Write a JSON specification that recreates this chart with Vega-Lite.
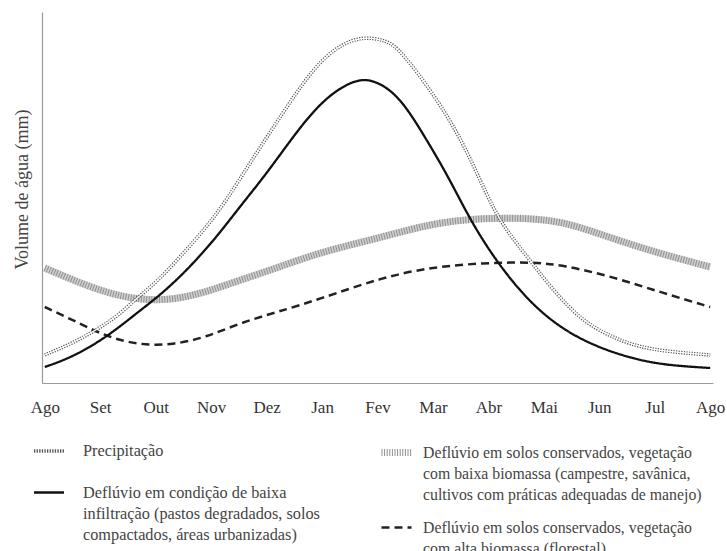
{
  "$schema": "https://vega.github.io/schema/vega-lite/v6.json",
  "autosize": {"type": "none"},
  "padding": {"left": 42, "top": 12, "right": 14, "bottom": 168},
  "width": 671,
  "height": 371,
  "config": {
    "view": {"stroke": null},
    "font": "Liberation Serif",
    "axis": {"grid": false},
    "style": {"guide-label": {"lineHeight": 21}}
  },
  "data": {
    "values": [
      {"serie": "P", "mes": 0, "v": 28},
      {"serie": "P", "mes": 0.505, "v": 40},
      {"serie": "P", "mes": 0.866, "v": 51},
      {"serie": "P", "mes": 1.3, "v": 66},
      {"serie": "P", "mes": 1.66, "v": 85},
      {"serie": "P", "mes": 2.02, "v": 101},
      {"serie": "P", "mes": 2.44, "v": 126},
      {"serie": "P", "mes": 2.92, "v": 156},
      {"serie": "P", "mes": 3.28, "v": 183},
      {"serie": "P", "mes": 3.7, "v": 220},
      {"serie": "P", "mes": 4.29, "v": 270},
      {"serie": "P", "mes": 4.78, "v": 310},
      {"serie": "P", "mes": 5.2, "v": 334},
      {"serie": "P", "mes": 5.68, "v": 347},
      {"serie": "P", "mes": 6.17, "v": 343},
      {"serie": "P", "mes": 6.41, "v": 333},
      {"serie": "P", "mes": 7.0, "v": 290},
      {"serie": "P", "mes": 7.49, "v": 246},
      {"serie": "P", "mes": 7.85, "v": 203},
      {"serie": "P", "mes": 8.21, "v": 160},
      {"serie": "P", "mes": 8.75, "v": 123},
      {"serie": "P", "mes": 9.06, "v": 100},
      {"serie": "P", "mes": 9.65, "v": 63},
      {"serie": "P", "mes": 10.25, "v": 45},
      {"serie": "P", "mes": 10.86, "v": 33},
      {"serie": "P", "mes": 12, "v": 28},

      {"serie": "BI", "mes": 0, "v": 16},
      {"serie": "BI", "mes": 0.505, "v": 26},
      {"serie": "BI", "mes": 1.12, "v": 46},
      {"serie": "BI", "mes": 1.66, "v": 70},
      {"serie": "BI", "mes": 2.13, "v": 90},
      {"serie": "BI", "mes": 2.62, "v": 116},
      {"serie": "BI", "mes": 3.1, "v": 146},
      {"serie": "BI", "mes": 3.57, "v": 180},
      {"serie": "BI", "mes": 4.01, "v": 210},
      {"serie": "BI", "mes": 4.6, "v": 256},
      {"serie": "BI", "mes": 5.09, "v": 287},
      {"serie": "BI", "mes": 5.63, "v": 305},
      {"serie": "BI", "mes": 5.99, "v": 302},
      {"serie": "BI", "mes": 6.41, "v": 286},
      {"serie": "BI", "mes": 6.89, "v": 243},
      {"serie": "BI", "mes": 7.31, "v": 203},
      {"serie": "BI", "mes": 7.67, "v": 163},
      {"serie": "BI", "mes": 8.16, "v": 120},
      {"serie": "BI", "mes": 8.75, "v": 80},
      {"serie": "BI", "mes": 9.35, "v": 53},
      {"serie": "BI", "mes": 9.96, "v": 36},
      {"serie": "BI", "mes": 10.56, "v": 25},
      {"serie": "BI", "mes": 11.15, "v": 18},
      {"serie": "BI", "mes": 12, "v": 15},

      {"serie": "BB", "mes": 0, "v": 115},
      {"serie": "BB", "mes": 0.505, "v": 103},
      {"serie": "BB", "mes": 1.12, "v": 90},
      {"serie": "BB", "mes": 1.71, "v": 83},
      {"serie": "BB", "mes": 2.31, "v": 83},
      {"serie": "BB", "mes": 2.92, "v": 91},
      {"serie": "BB", "mes": 3.52, "v": 103},
      {"serie": "BB", "mes": 4.19, "v": 115},
      {"serie": "BB", "mes": 4.91, "v": 130},
      {"serie": "BB", "mes": 6.1, "v": 146},
      {"serie": "BB", "mes": 7.0, "v": 160},
      {"serie": "BB", "mes": 7.9, "v": 165},
      {"serie": "BB", "mes": 8.75, "v": 165},
      {"serie": "BB", "mes": 9.35, "v": 161},
      {"serie": "BB", "mes": 9.96, "v": 150},
      {"serie": "BB", "mes": 10.86, "v": 133},
      {"serie": "BB", "mes": 12, "v": 116},

      {"serie": "AB", "mes": 0, "v": 76},
      {"serie": "AB", "mes": 0.505, "v": 63},
      {"serie": "AB", "mes": 1.12, "v": 46},
      {"serie": "AB", "mes": 1.71, "v": 38},
      {"serie": "AB", "mes": 2.31, "v": 38},
      {"serie": "AB", "mes": 2.92, "v": 46},
      {"serie": "AB", "mes": 3.52, "v": 60},
      {"serie": "AB", "mes": 4.19, "v": 71},
      {"serie": "AB", "mes": 4.91, "v": 83},
      {"serie": "AB", "mes": 6.1, "v": 106},
      {"serie": "AB", "mes": 7.0, "v": 116},
      {"serie": "AB", "mes": 7.9, "v": 120},
      {"serie": "AB", "mes": 8.75, "v": 121},
      {"serie": "AB", "mes": 9.35, "v": 118},
      {"serie": "AB", "mes": 10.25, "v": 106},
      {"serie": "AB", "mes": 11.15, "v": 90},
      {"serie": "AB", "mes": 12, "v": 76}
    ]
  },
  "encoding": {
    "x": {
      "field": "mes", "type": "quantitative",
      "scale": {"domain": [-0.05, 12.05], "nice": false, "zero": false},
      "axis": {
        "title": null, "values": [0,1,2,3,4,5,6,7,8,9,10,11,12],
        "labelExpr": "['Ago','Set','Out','Nov','Dez','Jan','Fev','Mar','Abr','Mai','Jun','Jul','Ago'][datum.value]",
        "ticks": false, "domainColor": "#9a9a9a", "domainWidth": 1.2,
        "labelFont": "Liberation Serif", "labelFontSize": 17, "labelColor": "#333", "labelPadding": 16, "labelFlush": false
      }
    },
    "y": {
      "field": "v", "type": "quantitative",
      "scale": {"domain": [0, 371], "nice": false},
      "axis": {
        "title": "Volume de água (mm)", "labels": false, "ticks": false,
        "domainColor": "#9a9a9a", "domainWidth": 1.2,
        "titleFont": "Liberation Serif", "titleFontSize": 18, "titleFontWeight": "normal", "titleColor": "#444",
        "titlePadding": 11, "titleY": 177
      }
    }
  },
  "layer": [
    {
      "transform": [{"filter": "datum.serie == 'BB'"}],
      "mark": {"type": "line", "interpolate": "basis", "stroke": "#d0d0d0", "strokeWidth": 7}
    },
    {
      "transform": [{"filter": "datum.serie == 'BB' || datum.serie == 'AB'"}],
      "mark": {"type": "line", "interpolate": "basis"},
      "encoding": {
        "color": {
          "field": "serie", "type": "nominal",
          "scale": {"domain": ["BB", "AB"], "range": ["#8f8f8f", "#222222"]},
          "legend": {
            "orient": "none", "legendX": 336, "legendY": 422, "title": null,
            "direction": "vertical", "symbolSize": 900, "labelFont": "Liberation Serif", "labelFontSize": 15.8, "labelColor": "#444",
            "labelLimit": 400, "rowPadding": 8, "labelOffset": 8,
            "labelExpr": "datum.value == 'BB' ? ['Deflúvio em solos conservados, vegetação', 'com baixa biomassa (campestre, savânica,', 'cultivos com práticas adequadas de manejo)'] : ['Deflúvio em solos conservados, vegetação', 'com alta biomassa (florestal)']"
          }
        },
        "strokeDash": {
          "field": "serie", "type": "nominal",
          "scale": {"domain": ["BB", "AB"], "range": [[1, 1.6], [8, 5]]}
        },
        "strokeWidth": {
          "field": "serie", "type": "nominal",
          "scale": {"domain": ["BB", "AB"], "range": [7, 2.5]}
        }
      }
    },
    {
      "transform": [{"filter": "datum.serie == 'P' || datum.serie == 'BI'"}],
      "mark": {"type": "line", "interpolate": "basis"},
      "encoding": {
        "color": {
          "field": "serie", "type": "nominal",
          "scale": {"domain": ["P", "BI"], "range": ["#555555", "#111111"]},
          "legend": {
            "orient": "none", "legendX": -10, "legendY": 422, "title": null,
            "direction": "vertical", "symbolSize": 900, "labelFont": "Liberation Serif", "labelFontSize": 16.3, "labelColor": "#444",
            "labelLimit": 400, "rowPadding": 16, "labelOffset": 17,
            "labelExpr": "datum.value == 'P' ? 'Precipitação' : ['Deflúvio em condição de baixa', 'infiltração (pastos degradados, solos', 'compactados, áreas urbanizadas)']"
          }
        },
        "strokeDash": {
          "field": "serie", "type": "nominal",
          "scale": {"domain": ["P", "BI"], "range": [[1.3, 1.3], [1, 0]]}
        },
        "strokeWidth": {
          "field": "serie", "type": "nominal",
          "scale": {"domain": ["P", "BI"], "range": [3.5, 2.3]}
        }
      }
    },
    {
      "transform": [{"filter": "datum.serie == 'P'"}],
      "mark": {"type": "line", "interpolate": "basis", "stroke": "white", "strokeWidth": 1.2}
    }
  ],
  "resolve": {
    "scale": {"color": "independent", "strokeDash": "independent", "strokeWidth": "independent"}
  }
}
